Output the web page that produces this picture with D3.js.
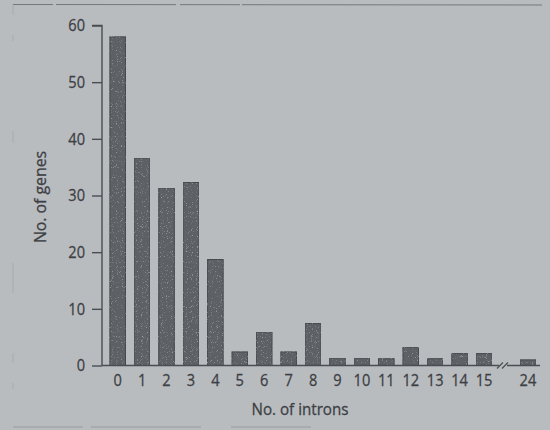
<!DOCTYPE html>
<html>
<head>
<meta charset="utf-8">
<script src="https://cdn.jsdelivr.net/npm/d3@7/dist/d3.min.js"></script>
<style>
  html, body { margin: 0; padding: 0; background: #b9bcbf; }
  svg { display: block; }
  text { font-family: "Open Sans", "Noto Sans", sans-serif; fill: #3d4044; stroke: #3d4044; stroke-width: 0.3px; }
</style>
</head>
<body>
<svg id="chart" width="550" height="430"></svg>
<script>
// Number of introns per gene (last category sits after an axis break)
const intronLabels = ["0","1","2","3","4","5","6","7","8","9","10","11","12","13","14","15","24"];
const geneCounts   = [58, 36.6, 31.3, 32.3, 18.7, 2.4, 5.9, 2.4, 7.4, 1.3, 1.3, 1.2, 3.2, 1.2, 2.1, 2.1, 1.0];
const yTicks       = [0, 10, 20, 30, 40, 50, 60];

const W = 550, H = 430;
const svg = d3.select("#chart");
const narrow = 0.86;   // horizontal squeeze for the condensed lettering

// soft paper background
svg.append("rect").attr("width", W).attr("height", H).attr("fill", "#b9bcbf");

// faint scanned frame edges
const frame = svg.append("g").attr("fill", "none");
frame.append("line").attr("x1", 13).attr("x2", 550).attr("y1", 4.5).attr("y2", 5)
  .attr("stroke", "#74777b").attr("stroke-width", 1).attr("stroke-dasharray", "40 3 120 4 60 2 300");
frame.append("line").attr("x1", 13).attr("x2", 13).attr("y1", 5).attr("y2", 427)
  .attr("stroke", "#a7aaae").attr("stroke-width", 1).attr("stroke-dasharray", "10 20 6 90 12 120 30 60");
frame.append("line").attr("x1", 13).attr("x2", 380).attr("y1", 427).attr("y2", 427)
  .attr("stroke", "#989b9f").attr("stroke-width", 1).attr("stroke-dasharray", "70 8 110 30 80");

// light grain for the bars
const defs = svg.append("defs");
const f = defs.append("filter").attr("id", "grain").attr("x", 0).attr("y", 0).attr("width", 1).attr("height", 1);
f.append("feTurbulence").attr("type", "fractalNoise").attr("baseFrequency", 1.2).attr("numOctaves", 1).attr("seed", 4).attr("result", "n");
f.append("feColorMatrix").attr("in", "n").attr("type", "matrix")
  .attr("values", "0 0 0 0 0.78  0 0 0 0 0.79  0 0 0 0 0.81  0 0 0 -3.2 1.25").attr("result", "spec");
f.append("feComposite").attr("in", "spec").attr("in2", "SourceGraphic").attr("operator", "in").attr("result", "specIn");
f.append("feComponentTransfer").attr("in", "specIn").attr("result", "specSoft")
  .append("feFuncA").attr("type", "linear").attr("slope", 0.55);
f.append("feMerge").selectAll("feMergeNode").data(["SourceGraphic", "specSoft"]).join("feMergeNode").attr("in", d => d);

// scales
const axisX = 102, baseY = 365.5;
const y = d3.scaleLinear().domain([0, 60]).range([baseY, 25.5]);
const breakSlots = 1.8; // extra distance between "15" and "24"
const slotOf = i => i < 16 ? i : 15 + breakSlots;
const x = d3.scaleLinear().domain([0, 15]).range([117.7, 484]);
const step = x(1) - x(0);
const barW = step * 0.64;

// bars
svg.append("g").selectAll("rect").data(geneCounts).join("rect")
  .attr("x", (d, i) => x(slotOf(i)) - barW / 2)
  .attr("y", d => y(d))
  .attr("width", barW)
  .attr("height", d => y(0) - y(d))
  .attr("fill", "#5d6065")
  .attr("stroke", "#46494d")
  .attr("stroke-width", 1)
  .attr("filter", "url(#grain)");

// y axis
const yAxis = d3.axisLeft(y).tickValues(yTicks).tickSize(10).tickPadding(7);
const gy = svg.append("g").attr("transform", `translate(${axisX},0)`).call(yAxis);
gy.select(".domain").attr("stroke", "#4a4d51").attr("stroke-width", 1.4).attr("d", `M-10,${y(60)}H0V${y(0)}`);
gy.selectAll(".tick line").attr("stroke", "#4a4d51").attr("stroke-width", 1.4);
gy.selectAll(".tick text")
  .attr("font-size", 17).attr("fill", "#3d4044")
  .attr("font-family", "'Open Sans', sans-serif")
  .attr("transform", `scale(${narrow},1)`)
  .attr("x", -17 / narrow);

// x baseline with break marks
const xEnd = 540;
const breakX = (x(15) + x(15 + breakSlots)) / 2 - 3;
const base = svg.append("g").attr("stroke", "#4a4d51").attr("stroke-width", 1.4).attr("fill", "none");
base.append("line").attr("x1", axisX).attr("x2", breakX - 4).attr("y1", baseY).attr("y2", baseY);
base.append("line").attr("x1", breakX + 4).attr("x2", xEnd).attr("y1", baseY).attr("y2", baseY);
[-3, 2].forEach(o => {
  base.append("line").attr("stroke-width", 1.1)
    .attr("x1", breakX + o - 3).attr("y1", baseY + 3).attr("x2", breakX + o + 3).attr("y2", baseY - 3);
});

// x tick labels
svg.append("g").selectAll("text").data(intronLabels).join("text")
  .attr("transform", (d, i) => `translate(${x(slotOf(i))},${baseY + 20}) scale(${narrow},1)`)
  .attr("text-anchor", "middle")
  .attr("font-size", 17)
  .text(d => d);

// axis titles
svg.append("text").attr("transform", `translate(300,415) scale(0.92,1)`).attr("text-anchor", "middle")
  .attr("font-size", 16.5).text("No. of introns");
svg.append("text").attr("transform", `translate(45.5,197) rotate(-90) scale(0.96,1)`).attr("text-anchor", "middle")
  .attr("font-size", 16.5).text("No. of genes");
</script>
</body>
</html>
